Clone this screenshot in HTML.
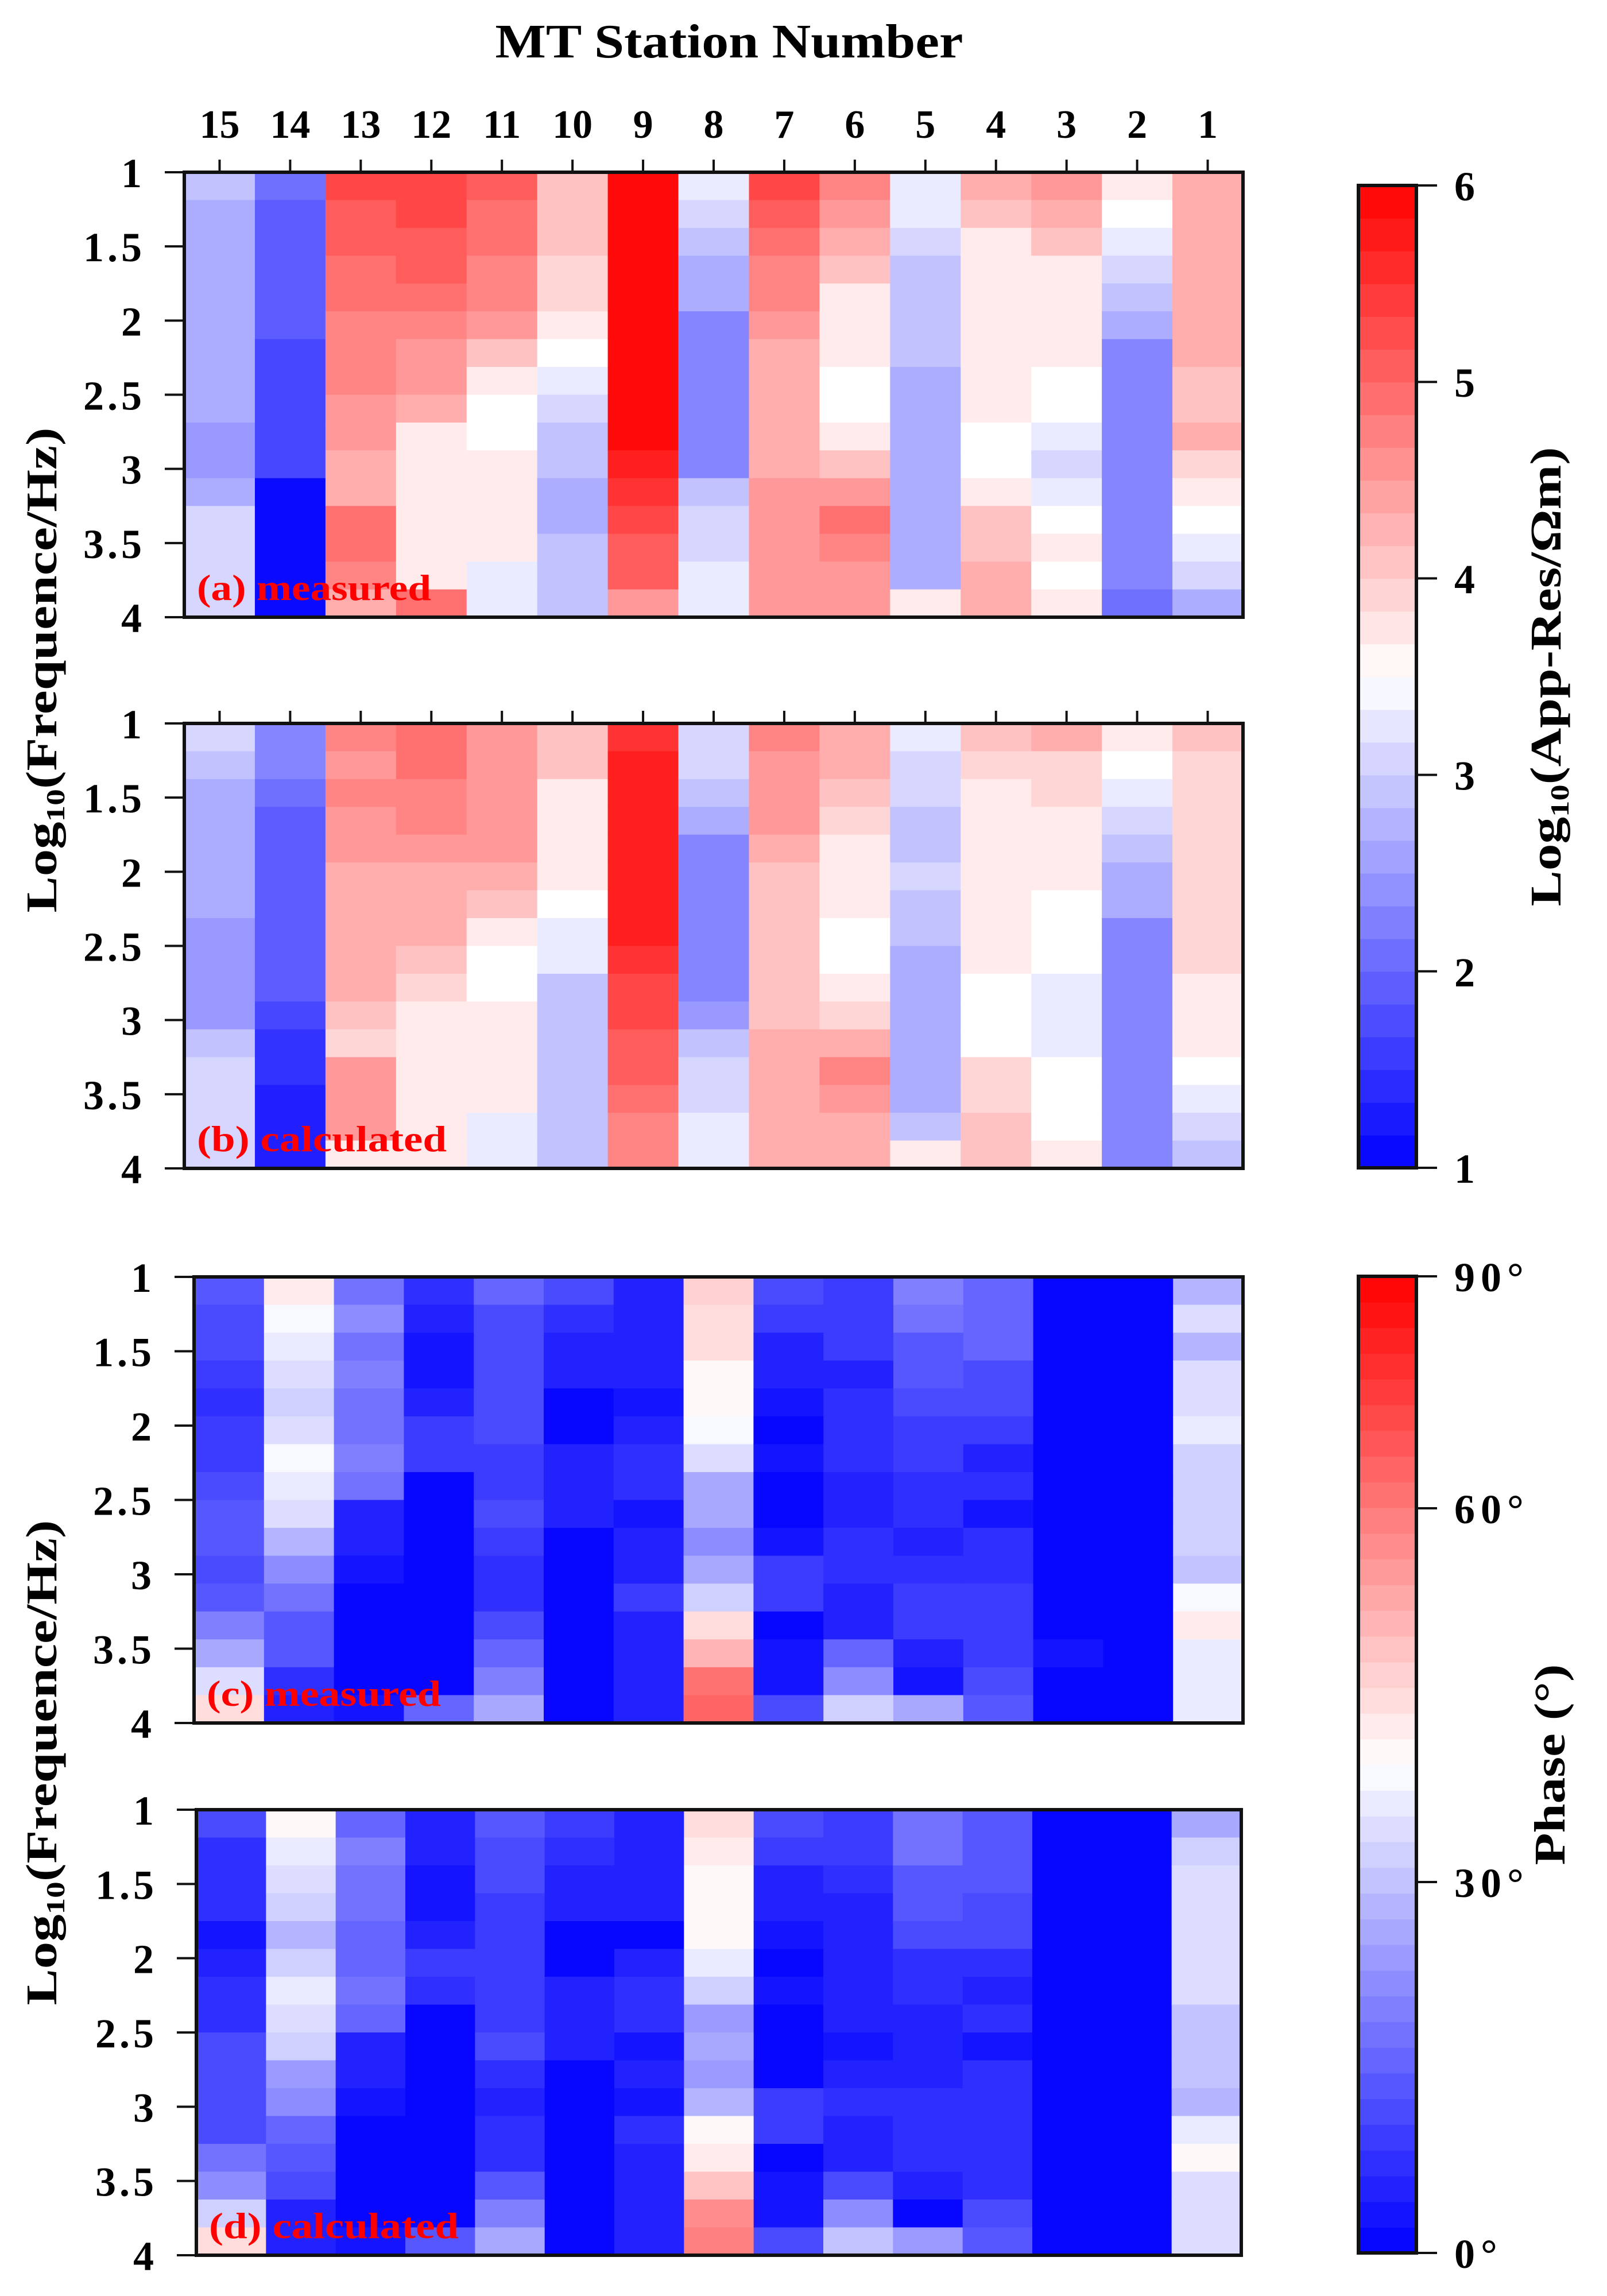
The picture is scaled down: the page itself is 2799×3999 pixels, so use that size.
<!DOCTYPE html>
<html><head><meta charset="utf-8"><style>
html,body{margin:0;padding:0;background:#fff;}
svg{display:block;}
text{font-family:"Liberation Serif",serif;font-weight:bold;}
</style></head><body>
<svg id="chart" width="2799" height="3999" viewBox="0 0 2799 3999" xmlns="http://www.w3.org/2000/svg">
<text x="1270" y="100" font-size="84" text-anchor="middle" textLength="815" lengthAdjust="spacingAndGlyphs">MT Station Number</text>
<g id="g"></g>
</svg>
<script>
// stations left to right
const stations = [15,14,13,12,11,10,9,8,7,6,5,4,3,2,1];
const freqTicks = [1,1.5,2,2.5,3,3.5,4];
const resTicks = [1,2,3,4,5,6];
// Panel (a) measured log10 apparent resistivity, per station column, 16 rows top->bottom
const resMeasured = [
 [2.9,2.6,2.6,2.6,2.6,2.6,2.6,2.6,2.6,2.5,2.5,2.7,3.0,3.0,3.1,3.1],
 [2.0,1.9,1.8,1.8,1.8,1.8,1.6,1.6,1.6,1.6,1.6,1.2,1.2,1.0,1.0,1.0],
 [5.2,5.1,5.0,4.9,4.9,4.7,4.6,4.6,4.5,4.4,4.3,4.3,4.8,4.8,4.6,4.2],
 [5.3,5.3,5.1,5.1,4.9,4.6,4.4,4.4,4.2,3.8,3.6,3.6,3.6,3.6,3.7,4.8],
 [5.0,4.9,4.9,4.7,4.6,4.4,4.1,3.6,3.4,3.4,3.8,3.8,3.8,3.6,3.2,3.2],
 [4.1,4.1,4.1,3.9,3.9,3.6,3.4,3.2,3.1,2.8,2.8,2.6,2.6,2.8,2.8,2.8],
 [6.0,6.0,6.0,6.0,6.0,6.0,6.0,6.0,6.0,5.9,5.6,5.4,5.3,5.1,5.0,4.4],
 [3.2,3.0,2.8,2.6,2.6,2.4,2.2,2.2,2.2,2.2,2.4,2.8,3.1,3.1,3.2,3.2],
 [5.2,5.0,4.9,4.7,4.7,4.4,4.2,4.2,4.2,4.2,4.3,4.4,4.4,4.4,4.4,4.4],
 [4.6,4.4,4.2,4.0,3.8,3.8,3.6,3.4,3.4,3.6,4.0,4.5,4.9,4.7,4.5,4.4],
 [3.3,3.3,3.1,2.9,2.9,2.9,2.9,2.7,2.7,2.7,2.7,2.7,2.7,2.7,2.7,3.8],
 [4.2,4.0,3.8,3.8,3.8,3.8,3.8,3.8,3.8,3.4,3.4,3.6,4.0,4.0,4.2,4.3],
 [4.4,4.2,4.0,3.8,3.8,3.6,3.6,3.4,3.4,3.3,3.1,3.2,3.4,3.6,3.4,3.6],
 [3.6,3.4,3.2,3.0,2.8,2.6,2.4,2.2,2.2,2.4,2.4,2.2,2.2,2.2,2.2,2.0],
 [4.2,4.2,4.2,4.2,4.2,4.2,4.3,4.0,4.0,4.3,3.9,3.6,3.4,3.2,3.0,2.7]
];
// Panel (b) calculated
const resCalculated = [
 [3.0,2.8,2.7,2.7,2.7,2.7,2.6,2.5,2.5,2.5,2.5,2.8,3.0,3.0,3.1,3.1],
 [2.3,2.2,2.0,1.9,1.9,1.8,1.8,1.8,1.8,1.8,1.6,1.5,1.5,1.4,1.3,1.3],
 [4.6,4.5,4.6,4.5,4.4,4.3,4.2,4.2,4.3,4.2,4.0,3.9,4.5,4.5,4.4,3.7],
 [4.8,4.8,4.7,4.7,4.4,4.3,4.2,4.2,4.0,3.9,3.6,3.6,3.6,3.6,3.7,3.7],
 [4.5,4.5,4.5,4.4,4.4,4.2,4.0,3.6,3.4,3.4,3.6,3.6,3.8,3.6,3.3,3.2],
 [4.0,4.0,3.8,3.8,3.8,3.6,3.4,3.3,3.2,2.9,2.9,2.8,2.8,2.9,2.9,2.9],
 [5.4,5.6,5.6,5.6,5.6,5.6,5.6,5.6,5.5,5.3,5.2,5.1,5.0,4.9,4.7,4.6],
 [3.0,3.0,2.8,2.6,2.4,2.4,2.3,2.3,2.3,2.4,2.5,2.9,3.1,3.1,3.2,3.3],
 [4.6,4.5,4.5,4.4,4.2,4.1,4.1,4.1,4.1,4.1,4.1,4.2,4.2,4.2,4.2,4.2],
 [4.3,4.2,4.0,3.9,3.7,3.7,3.6,3.4,3.4,3.6,3.9,4.3,4.6,4.4,4.3,4.2],
 [3.2,3.1,3.1,2.9,2.9,3.0,2.9,2.8,2.6,2.6,2.6,2.7,2.6,2.6,2.8,3.6],
 [4.0,3.9,3.7,3.7,3.7,3.8,3.8,3.7,3.6,3.4,3.4,3.5,3.9,3.9,4.0,4.0],
 [4.2,3.9,3.9,3.7,3.7,3.6,3.5,3.4,3.4,3.2,3.2,3.2,3.4,3.5,3.4,3.6],
 [3.6,3.4,3.2,3.0,2.9,2.6,2.6,2.4,2.4,2.4,2.4,2.4,2.2,2.3,2.4,2.2],
 [4.0,3.9,3.9,3.9,3.9,3.9,3.9,3.9,3.9,3.7,3.7,3.6,3.4,3.2,3.1,2.9]
];
// Panel (c) measured phase (degrees)
const phaseMeasured = [
 [16,12,12,10,8,10,11,12,16,16,13,15,23,29,39,52],
 [48,44,41,39,36,39,44,41,39,31,25,20,15,16,8,6],
 [20,24,20,22,20,20,23,21,7,5,3,2,2,2,2,3],
 [8,6,4,4,6,11,10,0,0,0,0,0,0,0,2,17],
 [17,14,13,12,12,12,11,10,14,11,9,8,12,17,23,30],
 [12,9,7,7,0,0,6,6,6,0,1,0,0,1,0,0],
 [7,7,6,6,3,6,9,8,4,6,5,10,7,7,7,6],
 [54,50,51,47,47,43,40,29,30,25,29,36,51,58,70,72],
 [12,11,6,6,4,0,4,0,0,3,10,10,1,4,4,12],
 [11,11,10,7,8,8,8,6,5,8,8,6,7,17,25,36],
 [23,20,16,16,14,10,10,8,8,5,8,10,10,5,3,30],
 [17,17,17,14,14,10,6,8,3,9,9,11,11,11,14,16],
 [1,1,1,1,1,1,1,1,1,1,1,1,1,3,1,1],
 [0,0,0,0,0,0,0,0,0,0,0,0,0,0,0,0],
 [33,39,33,40,40,41,37,36,36,36,35,43,49,41,41,41]
];
// Panel (d) calculated phase
const phaseCalculated = [
 [14,8,8,9,3,6,8,8,13,13,12,13,21,26,36,51],
 [47,41,38,37,33,36,41,39,37,28,24,17,15,14,6,6],
 [18,22,20,21,18,18,21,18,6,5,3,2,1,1,1,3],
 [7,5,3,3,6,10,9,1,0,0,0,0,0,0,1,16],
 [16,14,12,11,11,11,10,10,12,9,7,8,8,15,22,30],
 [11,9,7,7,1,0,5,5,5,0,0,0,0,1,1,0],
 [6,6,5,5,2,6,8,8,3,5,4,9,6,5,5,5],
 [50,48,45,47,47,41,37,28,29,27,33,45,49,55,65,68],
 [13,11,6,6,3,0,3,0,0,2,10,10,0,3,3,12],
 [10,10,9,6,7,7,7,5,4,7,8,6,6,14,24,34],
 [21,19,15,15,13,9,8,7,7,5,8,9,9,5,2,28],
 [15,16,16,13,13,9,5,8,3,8,8,9,9,9,13,15],
 [1,1,1,1,1,1,1,1,1,1,1,1,1,1,1,1],
 [0,0,0,0,0,0,0,0,0,0,0,0,0,0,0,0],
 [30,37,39,40,40,40,40,34,34,34,33,42,46,39,40,40]
];
const phaseTicks = [0,30,60,90];
const phaseTickLabels = ['0°','30°','60°','90°'];

const NS='http://www.w3.org/2000/svg';
const G=document.getElementById('g');
function el(tag,attrs,parent){const e=document.createElementNS(NS,tag);for(const k in attrs)e.setAttribute(k,attrs[k]);(parent||G).appendChild(e);return e;}
function bwr(t){t=Math.max(0,Math.min(1,t));let r,g,b;
 if(t<0.5){const s=t*2;r=Math.round(s*255);g=r;b=255;}else{const s=(1-t)*2;r=255;g=Math.round(s*255);b=g;}
 return `rgb(${r},${g},${b})`;}
function quant(t,n){return (Math.min(n-1,Math.floor(t*n))+0.5)/n;}

const panels=[
 {x0:321,x1:2165,y0:300,y1:1075,data:resMeasured,min:1,max:6,n:25,label:'(a) measured',lw:408,ticksTop:true,name:'panel-a-measured-resistivity'},
 {x0:321,x1:2165,y0:1260,y1:2035,data:resCalculated,min:1,max:6,n:25,label:'(b) calculated',lw:435,ticksTop:true,name:'panel-b-calculated-resistivity'},
 {x0:338,x1:2165,y0:2224,y1:3001,data:phaseMeasured,min:0,max:90,n:38,label:'(c) measured',lw:408,ticksTop:false,name:'panel-c-measured-phase'},
 {x0:342,x1:2162,y0:3152,y1:3928,data:phaseCalculated,min:0,max:90,n:38,label:'(d) calculated',lw:435,ticksTop:false,name:'panel-d-calculated-phase'}
];
panels.forEach(p=>{
 const grp=el('g',{});
 
 
 const nc=stations.length, nr=p.data[0].length;
 const cw=(p.x1-p.x0)/nc, rh=(p.y1-p.y0)/nr;
 const xS=i=>p.x0+i*cw;
 const yS=v=>p.y0+(v-1)/3*(p.y1-p.y0);
 p.data.forEach((col,i)=>{col.forEach((v,j)=>{
   const t=(v-p.min)/(p.max-p.min);
   const r=el('rect',{x:xS(i),y:p.y0+j*rh,width:cw+0.8,height:rh+0.8,fill:bwr(quant(t,p.n))},grp);
   
   
 });});
 const fr=el('rect',{x:p.x0,y:p.y0,width:p.x1-p.x0,height:p.y1-p.y0,fill:'none',stroke:'#111','stroke-width':6},grp);
 
 
 freqTicks.forEach(f=>{
   const y=yS(f);
   el('line',{x1:p.x0-34,x2:p.x0,y1:y,y2:y,stroke:'#111','stroke-width':4},grp);
   const t=el('text',{x:p.x0-68,y:y+26,'font-size':72,'text-anchor':'end','letter-spacing':6},grp);
   t.textContent=String(f);
   
   
 });
 if(p.ticksTop){stations.forEach((s,i)=>{const x=xS(i)+cw/2;el('line',{x1:x,x2:x,y1:p.y0-22,y2:p.y0,stroke:'#111','stroke-width':4},grp);});}
 const lb=el('text',{x:p.x0+22,y:p.y1-30,'font-size':64,fill:'#ff0000',textLength:p.lw,lengthAdjust:'spacingAndGlyphs'},grp);
 lb.textContent=p.label;
 
 
});
// station labels
const cw0=(2165-321)/15;
stations.forEach((s,i)=>{
 const t=el('text',{x:321+i*cw0+cw0/2,y:240,'font-size':70,'text-anchor':'middle'});
 t.textContent=String(s);
 
 
});
// y-axis titles
[[72,1167],[72,3070]].forEach(([x,y])=>{
 const t=el('text',{x:0,y:0,'font-size':76,'text-anchor':'middle',transform:`translate(${x+26},${y}) rotate(-90)`,textLength:845,lengthAdjust:'spacingAndGlyphs'});
 t.innerHTML='Log<tspan font-size="46" dy="14">10</tspan><tspan dy="-14">(Frequence/Hz)</tspan>';
 
 
});
// colorbars
function colorbar(x0,x1,y0,y1,n,ticks,tickPos,labels,title,titleX,titleLen,name){
 const grp=el('g',{});
 
 
 const h=(y1-y0)/n;
 for(let k=0;k<n;k++){el('rect',{x:x0,y:y1-(k+1)*h,width:x1-x0,height:h+0.8,fill:bwr((k+0.5)/n)},grp);}
 el('rect',{x:x0,y:y0,width:x1-x0,height:y1-y0,fill:'none',stroke:'#111','stroke-width':6},grp);
 ticks.forEach((v,i)=>{const y=tickPos(v);
  el('line',{x1:x1,x2:x1+36,y1:y,y2:y,stroke:'#111','stroke-width':4},grp);
  const t=el('text',{x:x1+66,y:y+26,'font-size':72,'letter-spacing':10},grp);
  t.textContent=labels[i];
  
  });
 const t=el('text',{x:0,y:0,'font-size':76,'text-anchor':'middle',transform:`translate(${titleX},${(y0+y1)/2}) rotate(-90)`,textLength:titleLen,lengthAdjust:'spacingAndGlyphs'},grp);
 t.innerHTML=title;
 
 
}
colorbar(2366,2467,323,2034,30,resTicks,v=>2034-(v-1)/5*(2034-323),resTicks.map(String),
 'Log<tspan font-size="46" dy="14">10</tspan><tspan dy="-14">(App-Res/Ωm)</tspan>',2718,800,'resistivity-colorbar');
const phPos=[3924,3278,2627,2223];
colorbar(2366,2467,2223,3924,38,phaseTicks,v=>phPos[phaseTicks.indexOf(v)],phaseTickLabels,'Phase (°)',2725,350,'phase-colorbar');
</script>
</body></html>
